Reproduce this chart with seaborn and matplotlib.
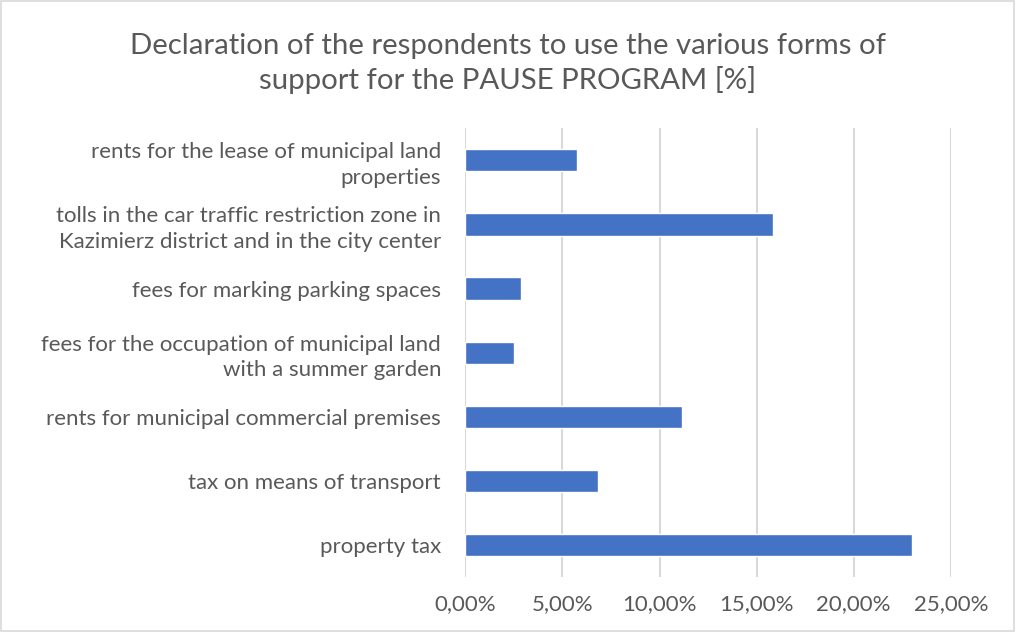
import matplotlib
matplotlib.use("Agg")
import matplotlib.pyplot as plt
import seaborn as sns
import pandas as pd
from matplotlib.ticker import FuncFormatter, MultipleLocator
from matplotlib.patches import Rectangle

categories = [
    "rents for the lease of municipal land\nproperties",
    "tolls in the car traffic restriction zone in\nKazimierz district and in the city center",
    "fees for marking parking spaces",
    "fees for the occupation of municipal land\nwith a summer garden",
    "rents for municipal commercial premises",
    "tax on means of transport",
    "property tax",
]
values = [5.77, 15.86, 2.88, 2.51, 11.17, 6.81, 23.01]
title = "Declaration of the respondents to use the various forms of\nsupport for the PAUSE PROGRAM [%]"

sns.set_theme(style="white")
plt.rcParams["font.family"] = ["Lato", "DejaVu Sans"]

df = pd.DataFrame({"category": categories, "value": values})

fig = plt.figure(figsize=(10.16, 6.32), dpi=100)
ax = fig.add_axes([0.458, 0.087, 0.4778, 0.71])

sns.barplot(data=df, x="value", y="category", orient="h", color="#4472C4",
            width=0.345, saturation=1, ax=ax, zorder=3)

ax.set_xlim(0, 25)
ax.xaxis.set_major_locator(MultipleLocator(5))
ax.xaxis.set_major_formatter(FuncFormatter(lambda v, p: f"{v:.2f}".replace(".", ",") + "%"))
ax.grid(axis="x", color="#d9d9d9", linewidth=1.5, zorder=0)
ax.set_axisbelow(True)
for s in ax.spines.values():
    s.set_visible(False)
ax.set_xlabel("")
ax.set_ylabel("")
ax.tick_params(axis="both", length=0, colors="#595959", labelsize=16)
ax.tick_params(axis="y", pad=17.5)
ax.tick_params(axis="x", pad=12)
for lbl in ax.get_yticklabels():
    lbl.set_horizontalalignment("right")
    lbl.set_linespacing(1.35)

fig.text(0.5, 0.8995, title, ha="center", va="center", fontsize=21.2, color="#595959",
         linespacing=1.3)

fig.patches.append(Rectangle((0.001, 0.001), 0.997, 0.997, transform=fig.transFigure,
                             fill=False, edgecolor="#d9d9d9", linewidth=1.2))

fig.savefig("out.png", dpi=100, facecolor="white")
